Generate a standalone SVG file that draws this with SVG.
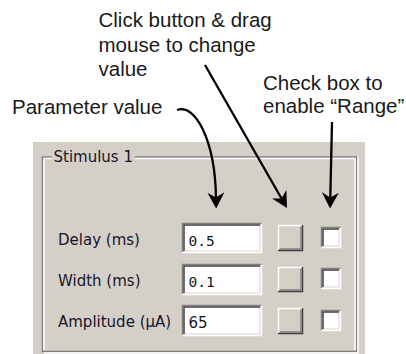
<svg xmlns="http://www.w3.org/2000/svg" width="406" height="354" viewBox="0 0 406 354">
<defs>
<style>
.note{font-family:"Liberation Sans",Arial,sans-serif;font-size:20.5px;fill:#1a1a1a}
.ui{font-family:"DejaVu Sans",Verdana,sans-serif;font-size:15px;fill:#15152a}
.mono{font-family:"DejaVu Sans Mono","Liberation Mono",monospace;font-size:14.5px;fill:#15152a}
.conn{fill:none;stroke:#000;stroke-width:2.3}
.dk{stroke:#808080;stroke-width:1.5;fill:none}
.dd{stroke:#404040;stroke-width:1.5;fill:none}
.wt{stroke:#ffffff;stroke-width:1.5;fill:none}
.lt{stroke:#e6e3dc;stroke-width:1.5;fill:none}
</style>
<marker id="ah" viewBox="0 0 16 17" refX="5" refY="8.5" markerWidth="16" markerHeight="17" markerUnits="userSpaceOnUse" orient="auto">
<path d="M0,0 L16,8.5 L0,17 L5,8.5 Z" fill="#000"/>
</marker>
</defs>
<rect width="406" height="354" fill="#ffffff"/>

<g id="annotations">
<text class="note" x="12" y="114">Parameter value</text>
<text class="note" x="98.5" y="27">Click button &amp; drag</text>
<text class="note" x="98.5" y="51.5">mouse to change</text>
<text class="note" x="98.5" y="75.5">value</text>
<text class="note" x="263" y="90">Check box to</text>
<text class="note" x="263" y="113.3">enable “Range”</text>
</g>

<g id="panel">
<rect x="33" y="142" width="332" height="212" fill="#d4d0c8"/>
</g>

<g id="groupbox">
<path class="dk" d="M52,157 H42.5 V351.5 H356.5 V157 H135"/>
<path class="wt" d="M52,158.5 H44 V350 M355,158.5 V350 M44,353 H358 V157 M135,158.5 H355"/>
<text class="ui" x="53.5" y="162">Stimulus 1</text>
</g>

<g id="row-delay">
<text class="ui" x="58" y="245">Delay (ms)</text>
<g id="value-delay">
<rect x="182" y="223" width="80" height="30" fill="#fff"/>
<path class="wt" d="M182.5,252.5 H261.5 V223"/>
<path class="lt" d="M184,251 H260 V224.5"/>
<path class="dk" d="M182.5,252 V223.5 H261.5"/>
<path class="dd" d="M184,251 V225 H260"/>
<text class="mono" x="188.5" y="246">0.5</text>
</g>
<g id="button-delay">
<rect x="278" y="225" width="25" height="26" fill="#d4d0c8"/>
<path class="wt" d="M278.5,250 V225.5 H302"/>
<path class="dd" d="M278,250.5 H302.5 V225"/>
<path class="dk" d="M279.5,249 H301 V226.5"/>
</g>
<g id="check-delay">
<rect x="321" y="227" width="20" height="21" fill="#fff"/>
<path class="wt" d="M321.5,247.5 H340.5 V227"/>
<path class="lt" d="M323,246 H339 V228.5"/>
<path class="dk" d="M321.5,247 V227.5 H340.5"/>
<path class="dd" d="M323,246 V229 H339"/>
</g>
</g>

<g id="row-width">
<text class="ui" x="58" y="286">Width (ms)</text>
<g id="value-width">
<rect x="182" y="264" width="80" height="31" fill="#fff"/>
<path class="wt" d="M182.5,294.5 H261.5 V264"/>
<path class="lt" d="M184,293 H260 V265.5"/>
<path class="dk" d="M182.5,294 V264.5 H261.5"/>
<path class="dd" d="M184,293 V266 H260"/>
<text class="mono" x="188.5" y="287">0.1</text>
</g>
<g id="button-width">
<rect x="278" y="267" width="25" height="25" fill="#d4d0c8"/>
<path class="wt" d="M278.5,291 V267.5 H302"/>
<path class="dd" d="M278,291.5 H302.5 V267"/>
<path class="dk" d="M279.5,290 H301 V268.5"/>
</g>
<g id="check-width">
<rect x="321" y="268" width="20" height="21" fill="#fff"/>
<path class="wt" d="M321.5,288.5 H340.5 V268"/>
<path class="lt" d="M323,287 H339 V269.5"/>
<path class="dk" d="M321.5,288 V268.5 H340.5"/>
<path class="dd" d="M323,287 V270 H339"/>
</g>
</g>

<g id="row-amplitude">
<text class="ui" x="58" y="327">Amplitude (µA)</text>
<g id="value-amplitude">
<rect x="182" y="305" width="80" height="31" fill="#fff"/>
<path class="wt" d="M182.5,335.5 H261.5 V305"/>
<path class="lt" d="M184,334 H260 V306.5"/>
<path class="dk" d="M182.5,335 V305.5 H261.5"/>
<path class="dd" d="M184,334 V307 H260"/>
<text class="ui" x="188.5" y="328">65</text>
</g>
<g id="button-amplitude">
<rect x="278" y="308" width="25" height="26" fill="#d4d0c8"/>
<path class="wt" d="M278.5,333 V308.5 H302"/>
<path class="dd" d="M278,333.5 H302.5 V308"/>
<path class="dk" d="M279.5,332 H301 V309.5"/>
</g>
<g id="check-amplitude">
<rect x="321" y="310" width="20" height="21" fill="#fff"/>
<path class="wt" d="M321.5,330.5 H340.5 V310"/>
<path class="lt" d="M323,329 H339 V311.5"/>
<path class="dk" d="M321.5,330 V310.5 H340.5"/>
<path class="dd" d="M323,329 V312 H339"/>
</g>
</g>

<g id="connectors">
<path class="conn" d="M177,110 C195,103 215,140 216,197.5" marker-end="url(#ah)"/>
<path class="conn" d="M205,65 L281.5,198.5" marker-end="url(#ah)"/>
<path class="conn" d="M332,122 L330.3,197.5" marker-end="url(#ah)"/>
</g>
</svg>
